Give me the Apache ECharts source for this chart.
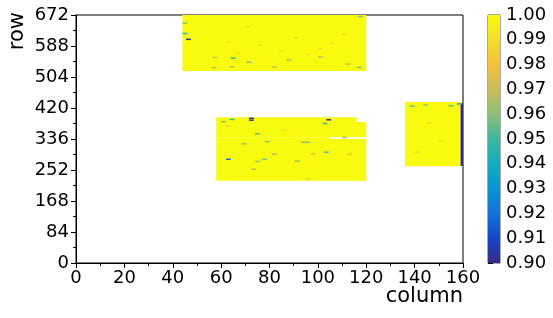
<!DOCTYPE html>
<html>
<head>
<meta charset="utf-8">
<script src="https://cdn.jsdelivr.net/npm/echarts@6/dist/echarts.min.js"></script>
<style>html,body{margin:0;padding:0;background:#fff}#c{width:553px;height:318px}</style>
</head>
<body>
<div id="c"></div>
<script>
// Column ticks, row ticks, colorbar ticks
const xTicks = [0, 20, 40, 60, 80, 100, 120, 140, 160];
const yTicks = [0, 84, 168, 252, 336, 420, 504, 588, 672];
const cbTicks = [0.90, 0.91, 0.92, 0.93, 0.94, 0.95, 0.96, 0.97, 0.98, 0.99, 1.00];

// Filled blocks: [colStart, colEnd, rowStart, rowEnd, value]
const blocks = [
  [44, 120, 520, 672, 1.0],
  [58, 120, 223, 336, 1.0],
  [58, 105, 336, 341, 1.0],
  [58, 120, 341, 382, 1.0],
  [58, 116, 382, 395, 1.0],
  [136, 159, 262, 436, 1.0],
  [159, 160, 263, 433, 0.90]
];

// Individual off-value cells: [col, row, value]
const cells = [
  [44, 650, 0.96], [44, 622, 0.95], [45.5, 606, 0.905], [64, 555, 0.95], [70.5, 544, 0.96],
  [56, 529, 0.97], [63.5, 532, 0.97], [81, 531, 0.97], [87, 550, 0.965], [100, 558, 0.97],
  [111.5, 539, 0.97], [116, 530, 0.96], [116.5, 668, 0.96], [56.5, 557, 0.97],
  [62, 600, 0.99], [75, 590, 0.99], [90, 610, 0.99], [100, 580, 0.99], [110, 620, 0.99],
  [70, 640, 0.99], [84, 575, 0.99], [95, 565, 0.99], [105, 595, 0.99], [66, 570, 0.99],
  [71.5, 392, 0.903], [71.5, 387, 0.903], [103.5, 388, 0.905], [63.5, 389, 0.95], [62, 281, 0.92],
  [102, 378, 0.95], [60, 383, 0.96], [74, 350, 0.955], [78, 329, 0.96], [68.5, 323, 0.96],
  [93, 327, 0.96], [95, 327, 0.96], [102.5, 300, 0.955], [77, 281, 0.96], [74, 275, 0.96],
  [72.5, 254, 0.965], [90.5, 276, 0.96], [81, 295, 0.965], [110, 340, 0.96],
  [97, 295, 0.98], [112, 295, 0.98], [62, 372, 0.99], [95, 228, 0.985], [85, 360, 0.99],
  [138, 425, 0.955], [143.5, 428, 0.96], [154, 426, 0.955], [157.5, 431, 0.95],
  [145, 380, 0.99], [150, 330, 0.99], [140, 300, 0.99]
];

// Parula colour stops (0.90 -> 1.00)
const parula = ['#352a87', '#1547c8', '#1272d9', '#0a95d2', '#12adbf', '#3cb89c',
  '#8dbf76', '#cbbb5b', '#f6bf3c', '#f5dd25', '#f9fb0e'];

const data = blocks.map(b => b.slice());
cells.forEach(c => data.push([c[0], c[0] + 2, c[1] - 2, c[1] + 2, c[2]]));

const chart = echarts.init(document.getElementById('c'), null, {renderer: 'canvas'});
const font = 'DejaVu Sans';
const gradStops = parula.map((c, i) => ({offset: 1 - i / (parula.length - 1), color: c}));

chart.setOption({
  animation: false,
  backgroundColor: '#fff',
  grid: [
    {left: 76, right: 90, top: 15, bottom: 55, show: true, borderColor: '#000', borderWidth: 1, backgroundColor: 'transparent'},
    {left: 488, width: 12, top: 15, bottom: 55, show: true, borderColor: '#555', borderWidth: 1, backgroundColor: 'transparent'}
  ],
  xAxis: [
    {type: 'value', gridIndex: 0, min: xTicks[0], max: xTicks[xTicks.length - 1], interval: 20,
     axisLine: {show: true, lineStyle: {color: '#000'}},
     axisTick: {show: true, length: 5, lineStyle: {color: '#000'}},
     minorTick: {show: true, splitNumber: 2, length: 3, lineStyle: {color: '#000'}},
     splitLine: {show: false},
     axisLabel: {color: '#000', fontFamily: font, fontSize: 18, margin: 6}},
    {type: 'value', gridIndex: 1, min: 0, max: 1, show: false}
  ],
  yAxis: [
    {type: 'value', gridIndex: 0, min: yTicks[0], max: yTicks[yTicks.length - 1], interval: 84,
     axisLine: {show: true, lineStyle: {color: '#000'}},
     axisTick: {show: true, length: 5, lineStyle: {color: '#000'}},
     minorTick: {show: true, splitNumber: 2, length: 3, lineStyle: {color: '#000'}},
     splitLine: {show: false},
     axisLabel: {color: '#000', fontFamily: font, fontSize: 18, margin: 7}},
    {type: 'value', gridIndex: 1, position: 'right', min: 0.9, max: 1.0, interval: 0.01,
     axisLine: {show: true, lineStyle: {color: '#555'}},
     axisTick: {show: true, length: 5, lineStyle: {color: '#000'}},
     splitLine: {show: false},
     axisLabel: {color: '#000', fontFamily: font, fontSize: 18, margin: 6,
       formatter: v => v.toFixed(2)}}
  ],
  visualMap: {
    show: false, type: 'continuous', min: 0.9, max: 1.0, dimension: 4, seriesIndex: 0,
    inRange: {color: parula}
  },
  series: [
    {
      type: 'custom', xAxisIndex: 0, yAxisIndex: 0,
      encode: {x: [0, 1], y: [2, 3]},
      data: data,
      renderItem: function (params, api) {
        const p0 = api.coord([api.value(0), api.value(2)]);
        const p1 = api.coord([api.value(1), api.value(3)]);
        const shape = echarts.graphic.clipRectByRect({
          x: p0[0], y: p1[1], width: p1[0] - p0[0], height: Math.max(p0[1] - p1[1], 1)
        }, params.coordSys);
        return shape && {type: 'rect', shape: shape, style: {fill: api.visual('color')}};
      }
    },
    {
      type: 'custom', xAxisIndex: 1, yAxisIndex: 1,
      data: [[0, 0.9]],
      renderItem: function (params, api) {
        const cs = params.coordSys;
        return {type: 'rect', shape: {x: cs.x, y: cs.y, width: cs.width, height: cs.height},
          style: {fill: new echarts.graphic.LinearGradient(0, 0, 0, 1, gradStops)}};
      }
    }
  ],
  graphic: [
    {type: 'text', right: 553 - 463, top: 286, style: {text: 'column', font: '21px "DejaVu Sans"', fill: '#000'}},
    {type: 'text', left: 7, top: 12, rotation: Math.PI / 2, style: {text: 'row', font: '21px "DejaVu Sans"', fill: '#000'}}
  ]
});
</script>
</body>
</html>
